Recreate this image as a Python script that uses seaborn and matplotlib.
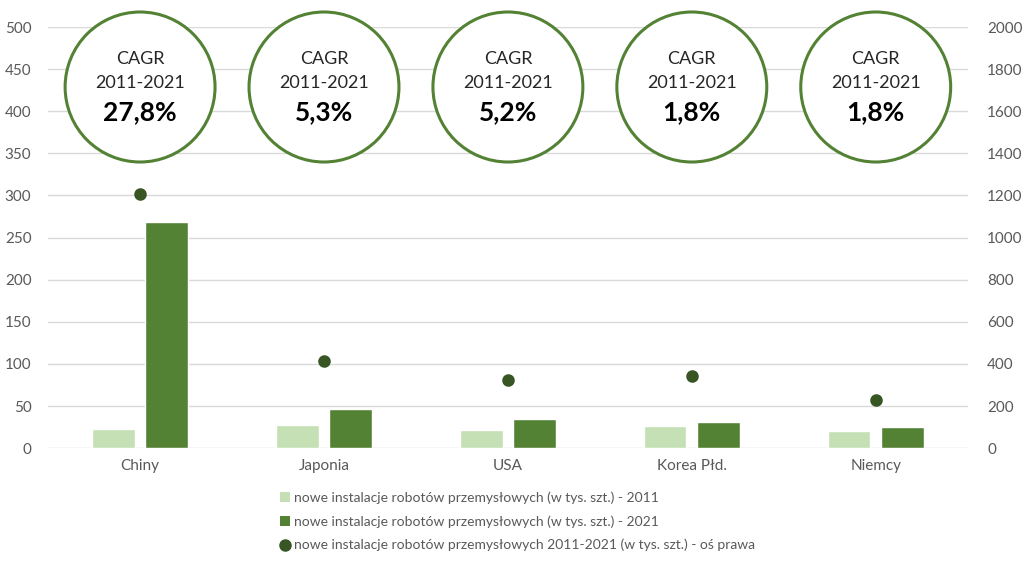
import numpy as np
import pandas as pd
import matplotlib
matplotlib.use("Agg")
from matplotlib import pyplot as plt
from matplotlib.patches import Ellipse, Patch
from matplotlib.lines import Line2D
from matplotlib import transforms
import seaborn as sns

# dane
kraje = ["Chiny", "Japonia", "USA", "Korea Płd.", "Niemcy"]
inst_2011 = [23, 27, 21, 26, 20]
inst_2021 = [268, 47, 35, 31, 25]
inst_suma = [1207, 416, 324, 343, 229]
cagr = ["27,8%", "5,3%", "5,2%", "1,8%", "1,8%"]

lab_2011 = "nowe instalacje robotów przemysłowych (w tys. szt.) - 2011"
lab_2021 = "nowe instalacje robotów przemysłowych (w tys. szt.) - 2021"
lab_suma = "nowe instalacje robotów przemysłowych 2011-2021 (w tys. szt.) - oś prawa"

c_light = "#C5E0B4"
c_dark = "#548235"
c_dot = "#375623"
c_text = "#595959"

df = pd.DataFrame({
    "kraj": kraje * 2,
    "rok": ["2011"] * len(kraje) + ["2021"] * len(kraje),
    "wartosc": inst_2011 + inst_2021,
})

sns.set_theme(style="white")
plt.rcParams["font.family"] = ["Lato", "DejaVu Sans"]

fig = plt.figure(figsize=(10.24, 5.76), dpi=100)
ax = fig.add_axes([0.047, 0.222, 0.898, 0.731])

sns.barplot(data=df, x="kraj", y="wartosc", hue="rok", order=kraje,
            palette=[c_light, c_dark], width=0.58, gap=0.2,
            saturation=1, legend=False, ax=ax)
ax.set_ylim(0, 500)
ax.set_yticks(range(0, 501, 50))
ax.set_xlim(-0.5, len(kraje) - 0.5)
ax.grid(axis="y", color="#D9D9D9", linewidth=1)
ax.set_axisbelow(True)
ax.set_xlabel("")
ax.set_ylabel("")
ax.tick_params(axis="both", length=0, colors=c_text, labelsize=11)
ax.tick_params(axis="x", pad=8)
ax.tick_params(axis="y", pad=12)
for s in ax.spines.values():
    s.set_visible(False)

ax2 = ax.twinx()
sns.pointplot(x=kraje, y=inst_suma, order=kraje, color=c_dot,
              linestyle="none", markers="o", markersize=7,
              errorbar=None, ax=ax2)
ax2.set_ylim(0, 2000)
ax2.set_yticks(range(0, 2001, 200))
ax2.set_xlim(-0.5, len(kraje) - 0.5)
ax2.set_ylabel("")
ax2.tick_params(axis="y", length=0, colors=c_text, labelsize=11, pad=14)
for s in ax2.spines.values():
    s.set_visible(False)

# kółka z CAGR
tr = transforms.blended_transform_factory(ax2.transData, fig.transFigure)
yc = 1 - 87 / 576
for i, val in enumerate(cagr):
    circ = Ellipse((i, yc), width=150 / 184, height=150 / 576, transform=tr,
                   facecolor="white", edgecolor=c_dark, linewidth=2.2,
                   clip_on=False, zorder=5)
    ax2.add_artist(circ)
    ax2.text(i, yc + 28 / 576, "CAGR", transform=tr, ha="center", va="center",
             fontsize=13, color="#262626", zorder=6)
    ax2.text(i, yc + 4 / 576, "2011-2021", transform=tr, ha="center", va="center",
             fontsize=13, color="#262626", zorder=6)
    ax2.text(i, yc - 25 / 576, val, transform=tr, ha="center", va="center",
             fontsize=19, fontweight="bold", color="black", zorder=6)

handles = [
    Patch(facecolor=c_light, edgecolor="none", label=lab_2011),
    Patch(facecolor=c_dark, edgecolor="none", label=lab_2021),
    Line2D([], [], linestyle="none", marker="o", markersize=8, color=c_dot, label=lab_suma),
]
leg = fig.legend(handles=handles, loc="upper left", bbox_to_anchor=(0.268, 1 - 486 / 576),
                 frameon=False, fontsize=10, handlelength=0.7, handleheight=0.7,
                 handletextpad=0.3, labelspacing=0.8, borderaxespad=0)
for t in leg.get_texts():
    t.set_color(c_text)

fig.savefig("out.png", dpi=100)
